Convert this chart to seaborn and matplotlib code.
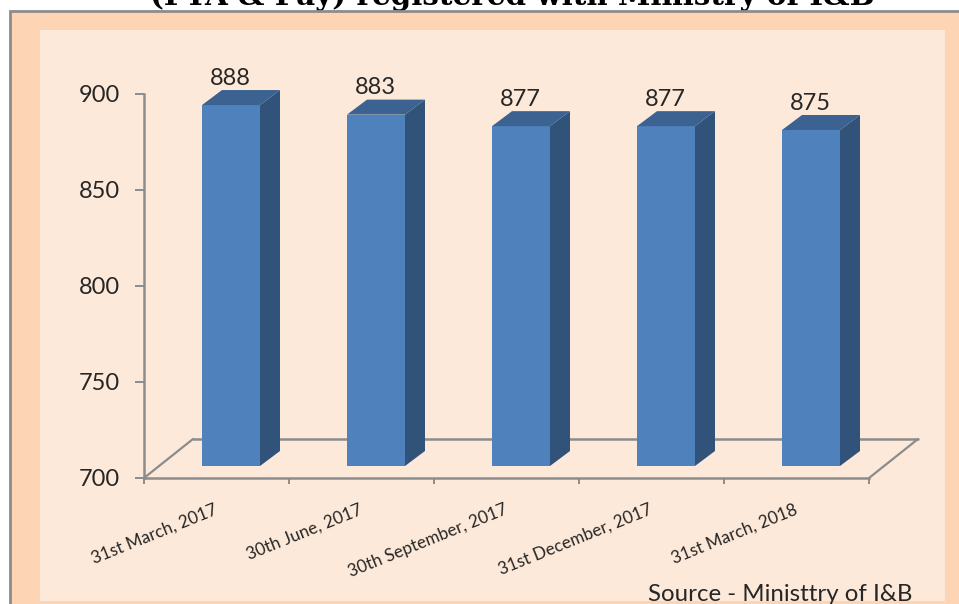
import numpy as np
import pandas as pd
import matplotlib
matplotlib.use("Agg")
import matplotlib.pyplot as plt
import seaborn as sns
from matplotlib.patches import Rectangle, Polygon
from matplotlib.lines import Line2D
from matplotlib.transforms import Affine2D

dates = ["31st March, 2017", "30th June, 2017", "30th September, 2017",
         "31st December, 2017", "31st March, 2018"]
channels = [888, 883, 877, 877, 875]
y_ticks = [700, 750, 800, 850, 900]
title = "(FTA & Pay) registered with Ministry of I&B"
source = "Source - Ministtry of I&B"

W, H = 959, 604
sns.set_theme(style="white")
plt.rcParams["font.family"] = ["Lato", "DejaVu Sans"]
fig = plt.figure(figsize=(W / 100, H / 100), dpi=100, facecolor="white")
px = Affine2D().scale(1 / W, -1 / H).translate(0, 1) + fig.transFigure

# page layers
fig.text(150, 5, title, transform=px, family="DejaVu Serif", weight="bold",
         fontsize=21.2, color="black", va="baseline", ha="left", zorder=-5)
fig.add_artist(Rectangle((10, 11), W, H, transform=px, fc="#FDD5B4", ec="#8C8C8C", lw=2, zorder=-4))
fig.add_artist(Rectangle((40, 30), 905, 571, transform=px, fc="#FDE9D9", ec="none", zorder=-3))

ax = fig.add_axes([144 / W, 1 - 478 / H, 725 / W, 384 / H])
ax.patch.set_alpha(0)

df = pd.DataFrame({"date": dates, "channels": channels})
df["height"] = df["channels"] - y_ticks[0]
sns.barplot(data=df, x="date", y="height", bottom=y_ticks[0], width=0.4, color="#4F81BD",
            saturation=1, ax=ax, zorder=3, linewidth=0, edgecolor="none")
ax.set_xlim(-0.5, len(dates) - 0.5)
ax.set_ylim(y_ticks[0], y_ticks[-1])
ax.set_xlabel("")
ax.set_ylabel("")

# 3-D look: pixel sizes converted through the axes scale
px_x = 1 / 145
px_y = 200 / 384
front = ax.transData + Affine2D().translate(14.5, 12)
for p, v in zip(list(ax.patches), channels):
    p.set_transform(front)
    p.set_clip_on(False)
    x0, x1 = p.get_x(), p.get_x() + p.get_width()
    dx, dy = 20 * px_x, 15 * px_y
    ax.add_patch(Polygon([(x1, y_ticks[0]), (x1 + dx, y_ticks[0] + dy), (x1 + dx, v + dy), (x1, v)],
                         closed=True, fc="#315379", ec="none", transform=front, clip_on=False, zorder=3))
    ax.add_patch(Polygon([(x0, v), (x0 + dx, v + dy), (x1 + dx, v + dy), (x1, v)],
                         closed=True, fc="#3C6292", ec="none", transform=front, clip_on=False, zorder=3))
    ax.annotate(str(v), xy=((x0 + x1) / 2, v), xycoords=front, xytext=(-1, 27), textcoords="offset pixels",
                ha="center", va="center", fontsize=17, color="#262626", annotation_clip=False, zorder=5)

# floor
depth = ax.transData + Affine2D().translate(49, 39)
grey = "#8C8C8C"
ax.add_line(Line2D([-0.5, 4.5], [700, 700], transform=depth, color=grey, lw=1.8, clip_on=False, zorder=1))
for xb in (-0.5, 4.5):
    ax.add_line(Line2D([xb, xb + 49 * px_x], [700, 700 + 39 * px_y], color=grey, lw=1.6,
                       clip_on=False, zorder=1))

for s in ("top", "right"):
    ax.spines[s].set_visible(False)
for s in ("left", "bottom"):
    ax.spines[s].set_color(grey)
    ax.spines[s].set_linewidth(1.8)
ax.spines["bottom"].set_zorder(1)

ax.set_yticks(y_ticks)
ax.tick_params(axis="y", length=6.5, width=1.4, color=grey, left=True, labelsize=17, labelcolor="#262626", pad=11)
ax.set_xticks(np.arange(len(dates) + 1) - 0.5, minor=True)
ax.tick_params(axis="x", which="minor", length=4, width=1.4, color=grey, bottom=True)
ax.tick_params(axis="x", which="major", length=0, labelsize=12.3, labelcolor="#262626", pad=22)
for lab in ax.get_xticklabels():
    lab.set_rotation(22)
    lab.set_ha("right")
    lab.set_va("center")
    lab.set_rotation_mode("anchor")

fig.text(912, 601, source, transform=px, fontsize=17.3, color="#262626", ha="right", va="baseline")

fig.savefig("out.png", dpi=100)
